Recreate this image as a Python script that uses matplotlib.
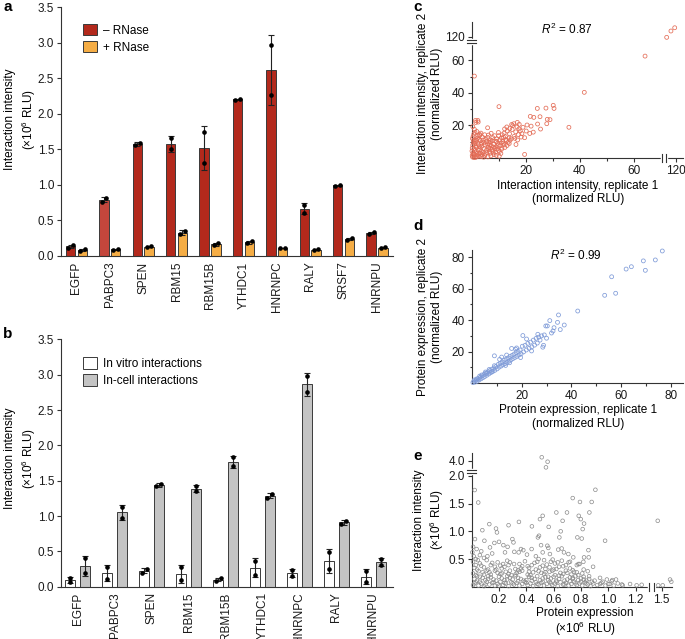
import numpy as np
import matplotlib
matplotlib.use('Agg')
import matplotlib.pyplot as plt
from matplotlib.patches import Patch

plt.rcParams['font.family'] = ['Liberation Sans', 'DejaVu Sans']
plt.rcParams['font.size'] = 8.5
plt.rcParams['mathtext.fontset'] = 'custom'
plt.rcParams['mathtext.rm'] = 'Liberation Sans'
plt.rcParams['mathtext.it'] = 'Liberation Sans:italic'
plt.rcParams['axes.edgecolor'] = '#333333'
plt.rcParams['axes.linewidth'] = 0.8
plt.rcParams['xtick.color'] = '#333333'
plt.rcParams['ytick.color'] = '#333333'
plt.rcParams['xtick.labelcolor'] = '#1a1a1a'
plt.rcParams['ytick.labelcolor'] = '#1a1a1a'

# ---- panel a data (two replicates per bar) ----
a_names = ['EGFP', 'PABPC3', 'SPEN', 'RBM15', 'RBM15B', 'YTHDC1', 'HNRNPC', 'RALY', 'SRSF7', 'HNRNPU']
a_minus_r1 = [0.117, 0.765, 1.557, 1.656, 1.740, 2.195, 2.970, 0.720, 0.985, 0.310]
a_minus_r2 = [0.150, 0.815, 1.595, 1.500, 1.305, 2.210, 2.270, 0.610, 1.000, 0.333]
a_plus_r1 = [0.075, 0.090, 0.125, 0.305, 0.150, 0.178, 0.108, 0.082, 0.225, 0.112]
a_plus_r2 = [0.094, 0.100, 0.140, 0.352, 0.182, 0.206, 0.110, 0.092, 0.252, 0.125]

# ---- panel b data ----
b_names = ['EGFP', 'PABPC3', 'SPEN', 'RBM15', 'RBM15B', 'YTHDC1', 'HNRNPC', 'RALY', 'HNRNPU']
b_vitro_r1 = [0.130, 0.280, 0.200, 0.273, 0.085, 0.364, 0.231, 0.490, 0.218]
b_vitro_r2 = [0.066, 0.115, 0.254, 0.094, 0.118, 0.171, 0.151, 0.246, 0.064]
b_cell_r1 = [0.400, 1.130, 1.420, 1.420, 1.830, 1.260, 2.980, 0.888, 0.390]
b_cell_r2 = [0.200, 0.976, 1.457, 1.350, 1.710, 1.310, 2.750, 0.936, 0.310]

# ---- panel c: interaction intensity rep1 vs rep2 ----
c_pts = [
    (1.0, 50.3), (10.1, 31.5), (41.7, 40.3), (64.2, 62.6), (36.0, 18.8), (19.6, 2.1),
    (108.9, 118.1), (114.0, 134.3), (118.5, 142.7),
    (1.4, 23.0), (2.3, 23.0), (1.5, 21.8), (2.4, 22.0), (1.2, 15.7), (1.9, 16.2), (2.9, 14.5), (5.9, 18.5),
    (21.7, 25.5), (23.0, 24.9), (25.3, 25.3), (24.3, 30.4), (27.5, 30.6), (30.2, 32.3), (30.5, 30.4),
    (28.0, 23.7), (29.0, 23.5), (25.5, 17.7), (27.8, 21.0), (24.4, 20.8), (20.2, 16.5), (21.5, 15.0),
    (19.6, 12.4), (22.8, 15.8),
    (15.6, 21.0), (15.2, 19.8), (16.8, 19.0), (14.1, 18.0), (15.0, 17.4), (17.5, 17.8), (16.3, 16.0),
    (13.2, 16.5), (12.0, 15.2), (14.0, 14.8), (17.3, 14.3), (18.6, 14.9), (12.5, 13.0), (13.8, 12.2),
    (15.7, 13.2), (11.0, 12.3), (10.4, 11.0), (12.8, 10.5), (16.4, 8.2), (9.2, 10.0), (11.6, 9.0),
    (14.2, 10.8), (18.0, 16.5), (11.3, 14.2), (10.0, 13.6),
    (0.3, 0.5), (0.8, 1.2), (1.5, 0.3), (2.2, 1.8), (0.5, 3.0), (1.1, 4.5), (2.8, 2.5), (3.5, 0.8),
    (0.2, 6.0), (1.8, 6.5), (3.0, 5.0), (4.2, 3.2), (4.8, 1.4), (5.5, 4.8), (2.5, 8.0), (0.7, 9.0),
    (3.8, 7.2), (6.2, 6.5), (6.8, 2.8), (7.5, 5.2), (4.5, 9.5), (1.3, 11.0), (5.2, 11.5), (8.2, 8.4),
    (7.0, 9.8), (9.0, 6.8), (8.8, 3.5), (10.5, 7.6), (6.0, 0.6), (3.2, 10.6), (2.0, 2.8), (0.4, 7.8),
    (9.6, 9.0), (11.2, 6.0), (7.8, 12.4), (4.0, 12.8), (0.9, 0.2), (2.6, 0.9), (1.7, 3.9), (5.8, 8.5),
    (3.6, 4.1), (6.5, 3.9), (8.3, 1.9), (10.0, 4.6), (12.0, 8.1), (0.6, 2.0), (2.9, 6.9), (4.6, 5.7),
    (7.3, 7.3), (1.2, 8.8), (5.0, 2.3), (9.3, 11.7), (11.5, 10.0), (6.9, 11.0), (3.3, 2.9), (0.1, 4.2),
    (8.6, 5.8), (10.8, 2.7), (0.2, 1.5), (1.0, 2.4), (1.9, 0.8), (2.4, 4.8), (3.9, 1.9), (4.4, 0.4),
    (5.6, 3.3), (6.3, 5.5), (7.1, 1.2), (7.9, 4.2), (0.9, 5.6), (1.6, 7.3), (3.4, 8.3), (4.9, 7.9),
    (6.6, 8.0), (8.9, 10.2), (9.8, 7.9), (10.9, 9.2), (12.6, 11.3), (13.5, 9.5), (11.8, 12.6), (2.1, 12.0),
    (0.5, 13.1), (1.4, 9.9), (3.0, 13.8), (5.4, 10.0), (7.6, 10.6), (8.1, 6.6), (9.4, 5.3), (10.3, 3.9),
    (0.3, 11.8), (0.6, 10.4), (1.9, 10.8), (2.7, 11.3), (3.7, 9.1), (4.3, 11.0), (5.9, 12.6), (6.4, 9.6),
    (7.0, 6.0), (8.0, 3.0), (9.1, 1.5), (10.2, 1.0), (11.0, 5.2), (12.3, 6.4), (13.1, 7.6), (13.9, 8.8),
    (14.6, 11.7), (16.0, 12.0), (17.0, 11.0), (18.3, 12.8), (16.9, 21.8), (14.8, 20.5), (13.0, 19.0),
    (12.2, 17.8), (19.0, 18.8), (20.5, 20.2), (22.0, 19.5), (17.6, 20.6), (1.0, 17.5), (0.4, 19.2),
    (3.4, 15.2), (6.2, 14.0), (8.5, 13.6), (9.9, 15.6), (7.2, 15.1), (4.8, 14.2), (2.3, 13.6), (0.8, 14.6),
]

# ---- panel d: protein expression rep1 vs rep2 ----
d_pts = [
    (0.5, 0.3), (0.9, 1.2), (1.3, 0.6), (1.8, 1.9), (2.2, 1.1), (2.6, 2.8), (3.0, 2.0), (3.4, 3.6),
    (3.8, 2.7), (4.2, 4.5), (4.6, 3.5), (5.0, 5.6), (5.3, 4.2), (5.7, 6.3), (6.1, 5.0), (6.5, 7.1),
    (6.9, 5.8), (7.3, 7.9), (7.7, 6.6), (8.1, 8.8), (8.5, 7.4), (8.9, 9.6), (9.3, 8.1), (9.7, 10.5),
    (2.0, 2.6), (4.0, 5.1), (6.0, 6.2), (8.0, 7.2), (3.2, 4.4), (7.0, 8.6), (1.1, 2.0), (5.5, 7.0),
    (9.1, 11.0), (9.1, 17.3),
    (10.2, 9.0), (10.6, 11.8), (11.0, 10.1), (11.4, 12.6), (11.8, 10.8), (12.2, 13.4), (12.6, 11.6),
    (13.0, 14.5), (13.4, 12.3), (13.8, 15.2), (14.2, 13.1), (14.6, 16.0), (15.0, 14.0), (15.4, 16.9),
    (15.8, 14.8), (16.2, 17.6), (16.6, 15.6), (17.0, 18.4), (17.4, 16.3), (17.8, 19.4), (18.2, 17.0),
    (18.6, 20.1), (19.0, 17.9), (19.4, 21.0), (19.8, 18.6), (12.0, 16.5), (16.0, 22.0), (14.0, 17.8),
    (18.0, 22.3), (11.2, 15.0), (15.2, 12.9), (19.6, 16.2), (13.6, 11.2), (17.6, 21.5),
    (20.3, 23.4), (20.8, 19.8), (21.4, 24.0), (21.9, 21.0), (22.5, 25.2), (23.0, 22.1), (23.6, 26.0),
    (24.1, 23.0), (24.7, 27.3), (25.2, 24.1), (25.8, 28.4), (26.3, 25.4), (26.9, 29.2), (27.4, 27.3),
    (28.0, 30.0), (28.5, 22.8), (29.1, 30.6), (28.8, 24.0), (22.0, 28.0), (20.5, 30.2), (26.5, 31.0),
    (24.0, 20.4),
    (30.3, 36.3), (31.3, 39.7), (32.6, 33.1), (32.0, 31.8), (29.7, 36.3), (34.8, 43.3), (34.4, 38.6),
    (37.1, 36.9), (30.0, 28.5), (33.0, 35.2), (35.5, 34.0), (42.5, 45.8),
    (53.3, 55.8), (56.1, 67.6), (57.7, 57.1), (61.9, 72.5), (64.0, 74.0), (68.8, 77.7), (69.6, 71.7),
    (73.6, 78.3), (76.4, 84.0),
]

# ---- panel e: protein expression vs interaction intensity ----
e_pts = [
    # above the break
    (0.513, 4.39), (0.556, 3.92), (0.544, 3.32),
    # sparse upper points
    (0.022, 1.745), (0.048, 1.52), (0.078, 1.02), (0.129, 1.13), (0.178, 1.05), (0.185, 0.98),
    (0.270, 1.11), (0.346, 1.17), (0.441, 1.09), (0.500, 1.22), (0.520, 1.28), (0.493, 0.92),
    (0.485, 0.89), (0.508, 0.75), (0.564, 1.08), (0.620, 1.34), (0.698, 1.34), (0.666, 1.19),
    (0.652, 1.00), (0.642, 0.89), (0.740, 1.60), (0.793, 1.53), (0.784, 1.28), (0.799, 1.22),
    (0.823, 1.14), (0.813, 1.04), (0.862, 1.34), (0.879, 1.53), (0.906, 1.75), (0.774, 0.89),
    (0.806, 0.87), (0.855, 0.66), (0.977, 0.83), (0.889, 0.36), (0.818, 0.45), (1.460, 1.19),
    # mid band
    (0.024, 0.86), (0.036, 0.68), (0.093, 0.83), (0.134, 0.71), (0.166, 0.79), (0.200, 0.81),
    (0.232, 0.75), (0.263, 0.72), (0.298, 0.86), (0.306, 0.80), (0.344, 0.62), (0.361, 0.68),
    (0.378, 0.66), (0.312, 0.63), (0.244, 0.62), (0.405, 0.58), (0.439, 0.68), (0.554, 0.74),
    (0.561, 0.70), (0.573, 0.59), (0.593, 0.49), (0.634, 0.67), (0.659, 0.69), (0.676, 0.62),
    (0.708, 0.59), (0.744, 0.53), (0.720, 0.45), (0.781, 0.41), (0.857, 0.53), (0.823, 0.53),
    (0.010, 0.72), (0.060, 0.57), (0.115, 0.55), (0.150, 0.60), (0.470, 0.55), (0.520, 0.62),
    (0.005, 0.62), (0.015, 0.55), (0.045, 0.48), (0.070, 0.64), (0.090, 0.52),
    # right of the break and along the bottom
    (1.465, 0.025), (1.511, 0.025), (1.587, 0.13), (1.600, 0.09),
    (0.940, 0.049), (0.960, 0.09), (1.000, 0.049), (1.025, 0.10), (1.057, 0.13), (1.106, 0.025),
    (1.160, 0.049), (1.208, 0.025), (1.245, 0.035),
    # dense band 0-0.1
    (0.01, 0.03), (0.03, 0.08), (0.05, 0.02), (0.07, 0.06), (0.09, 0.01), (0.11, 0.09), (0.13, 0.04),
    (0.15, 0.07), (0.17, 0.02), (0.19, 0.05), (0.21, 0.09), (0.23, 0.03), (0.25, 0.06), (0.27, 0.01),
    (0.29, 0.08), (0.31, 0.04), (0.33, 0.07), (0.35, 0.02), (0.37, 0.05), (0.39, 0.09), (0.41, 0.03),
    (0.43, 0.06), (0.45, 0.01), (0.47, 0.08), (0.49, 0.04), (0.51, 0.07), (0.53, 0.02), (0.55, 0.05),
    (0.57, 0.09), (0.59, 0.03), (0.61, 0.06), (0.63, 0.01), (0.65, 0.08), (0.67, 0.04), (0.69, 0.07),
    (0.71, 0.02), (0.73, 0.05), (0.75, 0.09), (0.77, 0.03), (0.79, 0.06), (0.81, 0.02), (0.83, 0.08),
    (0.85, 0.04), (0.87, 0.01), (0.89, 0.06), (0.92, 0.03), (0.95, 0.07), (0.98, 0.02), (1.01, 0.05),
    (1.04, 0.02), (1.07, 0.06), (1.10, 0.04), (1.03, 0.12), (0.99, 0.13),
    (0.02, 0.06), (0.06, 0.09), (0.10, 0.04), (0.16, 0.08), (0.20, 0.02), (0.24, 0.07), (0.30, 0.06),
    (0.40, 0.07), (0.48, 0.05), (0.52, 0.09), (0.58, 0.06), (0.62, 0.09), (0.68, 0.04), (0.72, 0.10),
    (0.76, 0.06), (0.80, 0.09), (0.84, 0.06), (0.88, 0.09),
    # dense band 0.1-0.2
    (0.02, 0.14), (0.06, 0.18), (0.10, 0.12), (0.14, 0.17), (0.18, 0.11), (0.22, 0.15), (0.26, 0.19),
    (0.30, 0.13), (0.34, 0.16), (0.38, 0.11), (0.42, 0.18), (0.46, 0.14), (0.50, 0.12), (0.54, 0.17),
    (0.58, 0.15), (0.62, 0.11), (0.66, 0.19), (0.70, 0.13), (0.74, 0.16), (0.78, 0.12), (0.82, 0.18),
    (0.86, 0.14), (0.90, 0.11), (0.94, 0.16), (0.04, 0.11), (0.08, 0.16), (0.12, 0.19), (0.16, 0.13),
    (0.20, 0.18), (0.24, 0.12), (0.28, 0.16), (0.32, 0.19), (0.36, 0.14), (0.40, 0.12), (0.44, 0.16),
    (0.48, 0.19), (0.52, 0.15), (0.56, 0.12), (0.60, 0.18), (0.64, 0.14), (0.68, 0.11), (0.72, 0.17),
    (0.76, 0.19), (0.80, 0.15), (0.84, 0.11),
    (0.04, 0.19), (0.12, 0.14), (0.26, 0.13), (0.34, 0.10), (0.44, 0.11), (0.56, 0.18), (0.64, 0.20),
    (0.74, 0.14), (0.78, 0.21), (0.82, 0.13), (0.86, 0.19),
    # dense band 0.2-0.3
    (0.01, 0.24), (0.05, 0.28), (0.09, 0.22), (0.13, 0.26), (0.17, 0.29), (0.21, 0.23), (0.25, 0.27),
    (0.29, 0.21), (0.33, 0.25), (0.37, 0.29), (0.41, 0.22), (0.45, 0.26), (0.49, 0.28), (0.53, 0.23),
    (0.57, 0.27), (0.61, 0.21), (0.65, 0.25), (0.69, 0.29), (0.73, 0.22), (0.77, 0.26), (0.81, 0.24),
    (0.85, 0.28), (0.03, 0.21), (0.11, 0.29), (0.19, 0.25), (0.27, 0.23), (0.35, 0.27), (0.43, 0.21),
    (0.51, 0.25), (0.59, 0.29), (0.67, 0.23), (0.75, 0.27),
    (0.08, 0.26), (0.14, 0.22), (0.22, 0.24), (0.28, 0.29), (0.32, 0.22), (0.42, 0.27), (0.54, 0.26),
    (0.60, 0.31), (0.70, 0.25),
    # band 0.3-0.4
    (0.02, 0.34), (0.07, 0.38), (0.12, 0.31), (0.17, 0.36), (0.22, 0.33), (0.27, 0.39), (0.32, 0.32),
    (0.37, 0.37), (0.42, 0.34), (0.47, 0.31), (0.52, 0.38), (0.57, 0.35), (0.62, 0.32), (0.67, 0.37),
    (0.72, 0.33), (0.77, 0.39), (0.82, 0.31), (0.04, 0.31), (0.14, 0.39), (0.24, 0.36), (0.34, 0.30),
    (0.44, 0.39), (0.54, 0.32), (0.64, 0.36), (0.74, 0.30),
    (0.18, 0.31), (0.36, 0.33), (0.50, 0.35), (0.03, 0.39), (0.09, 0.35),
    # band 0.4-0.5
    (0.01, 0.45), (0.06, 0.42), (0.11, 0.48), (0.19, 0.44), (0.26, 0.47), (0.31, 0.41), (0.39, 0.46),
    (0.46, 0.43), (0.53, 0.48), (0.61, 0.42), (0.66, 0.47), (0.71, 0.44), (0.79, 0.41), (0.03, 0.50),
    (0.23, 0.41), (0.49, 0.50), (0.58, 0.45),
    (0.15, 0.43), (0.21, 0.38), (0.28, 0.44), (0.35, 0.41), (0.41, 0.37), (0.48, 0.45), (0.55, 0.40),
    (0.63, 0.44), (0.69, 0.39),
]


def seg_scale(a, b, step, slope):
    # piecewise linear axis with a compressed gap between a and b
    xp = np.array([-1e3, a, b, 1e4])
    fp = np.array([-1e3, a, a + step, a + step + (1e4 - b) * slope])
    return (lambda v: np.interp(v, xp, fp)), (lambda v: np.interp(v, fp, xp))


def style_axes(ax):
    for s in ('top', 'right'):
        ax.spines[s].set_visible(False)
    ax.tick_params(direction='out', length=3, width=0.8, labelsize=8.5, pad=2)
    ax.tick_params(which='minor', direction='out', length=1.8, width=0.8)


def ybreak(ax, y0, y1):
    tr = ax.get_yaxis_transform()
    ax.plot([0, 0], [y0, y1], color='white', lw=2.5, transform=tr, clip_on=False, zorder=5)
    for y in (y0, y1):
        ax.plot([-0.022, 0.022], [y, y], color='#333333', lw=0.8, transform=tr, clip_on=False, zorder=6)


def xbreak(ax, x0, x1):
    tr = ax.get_xaxis_transform()
    ax.plot([x0, x1], [0, 0], color='white', lw=2.5, transform=tr, clip_on=False, zorder=5)
    for x in (x0, x1):
        ax.plot([x, x], [-0.03, 0.03], color='#333333', lw=0.8, transform=tr, clip_on=False, zorder=6)


def bar_panel(ax, names, series, colors, width, sep, label_y):
    x = np.arange(len(names))
    for k, ((r1, r2), col) in enumerate(zip(series, colors)):
        r1 = np.array(r1); r2 = np.array(r2)
        pts = np.vstack([r1, r2])
        mean = pts.mean(axis=0)
        sd = pts.std(axis=0, ddof=1)
        xpos = x + (k - 0.5) * sep
        ax.bar(xpos, mean, width, color=col, edgecolor='#3a3a3a', linewidth=0.7, zorder=2)
        ax.errorbar(xpos, mean, yerr=sd, fmt='none', ecolor='#222222', elinewidth=0.8,
                    capsize=2.3, capthick=0.8, zorder=3)
        dx = np.where(np.abs(r1 - r2) < 0.055, 0.07, 0.0)
        ax.scatter(xpos - dx, np.minimum(r1, r2), s=11, color='black', zorder=4, linewidths=0)
        ax.scatter(xpos + dx, np.maximum(r1, r2), s=11, color='black', zorder=4, linewidths=0)
    ax.set_xticks(x)
    ax.set_xticklabels(names, rotation=90)
    ax.tick_params(axis='x', length=0, pad=4)
    ax.set_ylim(0, 3.5)
    ax.set_yticks(np.arange(0, 3.51, 0.5))
    ax.set_yticklabels(['%.1f' % v for v in np.arange(0, 3.51, 0.5)])
    ax.set_ylabel('Interaction intensity\n(×10$^6$ RLU)', fontsize=8.5, linespacing=1.3)
    ax.yaxis.set_label_coords(-0.068, label_y)


fig = plt.figure(figsize=(6.85, 6.39), dpi=100)

# panel a
ax_a = fig.add_axes([0.0891, 0.5994, 0.4847, 0.3892])
style_axes(ax_a)
red = '#b3291c'
bar_panel(ax_a, a_names, [(a_minus_r1, a_minus_r2), (a_plus_r1, a_plus_r2)],
          [[red, '#c4463c'] + [red] * 8, '#f5ad45'], 0.28, 0.35, 0.55)
ax_a.set_xlim(-0.46, 9.48)
ax_a.legend(handles=[Patch(facecolor=red, edgecolor='#3a3a3a', lw=0.7, label='– RNase'),
                     Patch(facecolor='#f5ad45', edgecolor='#3a3a3a', lw=0.7, label='+ RNase')],
            loc='upper left', bbox_to_anchor=(0.035, 0.975), frameon=False, fontsize=8.5,
            handlelength=1.2, handleheight=1.1, handletextpad=0.5, labelspacing=0.35)

# panel b
ax_b = fig.add_axes([0.0891, 0.0818, 0.4847, 0.3872])
style_axes(ax_b)
bar_panel(ax_b, b_names, [(b_vitro_r1, b_vitro_r2), (b_cell_r1, b_cell_r2)],
          ['white', '#c4c4c4'], 0.263, 0.39, 0.52)
ax_b.set_xlim(-0.447, 8.53)
ax_b.legend(handles=[Patch(facecolor='white', edgecolor='#3a3a3a', lw=0.7, label='In vitro interactions'),
                     Patch(facecolor='#c4c4c4', edgecolor='#3a3a3a', lw=0.7, label='In-cell interactions')],
            loc='upper left', bbox_to_anchor=(0.035, 0.97), frameon=False, fontsize=8.5,
            handlelength=1.2, handleheight=1.1, handletextpad=0.5, labelspacing=0.35)

# panel c
ax_c = fig.add_axes([0.6886, 0.753, 0.3085, 0.213])
style_axes(ax_c)
fcx, icx = seg_scale(70, 105, 1.0, 0.31)
fcy, icy = seg_scale(70, 105, 1.0, 0.24)
ax_c.set_xscale('function', functions=(fcx, icx))
ax_c.set_yscale('function', functions=(fcy, icy))
cx, cy = np.array(c_pts).T
ax_c.scatter(cx, cy, s=8, facecolors='none', edgecolors='#e46d57', linewidths=0.55, clip_on=False, zorder=3)
ax_c.set_xlim(0, float(icx(78.26)))
ax_c.set_ylim(0, float(icy(83.75)))
ax_c.set_xticks([20, 40, 60, 120], ['20', '40', '60', '120'])
ax_c.set_xticks([10, 30, 50], minor=True)
ax_c.set_yticks([20, 40, 60, 120], ['20', '40', '60', '120'])
ax_c.set_yticks([10, 30, 50], minor=True)
xbreak(ax_c, float(icx(70.3)), float(icx(71.9)))
ybreak(ax_c, float(icy(70.5)), float(icy(72.5)))
ax_c.text(0.451, 0.946, '$R^2$ = 0.87', transform=ax_c.transAxes, ha='center', va='center', fontsize=8.5)
ax_c.set_xlabel('Interaction intensity, replicate 1\n(normalized RLU)', fontsize=8.5, linespacing=1.2)
ax_c.xaxis.set_label_coords(0.503, -0.16)
ax_c.set_ylabel('Interaction intensity, replicate 2\n(normalized RLU)', fontsize=8.5, linespacing=1.2)
ax_c.yaxis.set_label_coords(-0.138, 0.47)

# panel d
ax_d = fig.add_axes([0.6886, 0.4006, 0.3085, 0.2081])
style_axes(ax_d)
dx_, dy_ = np.array(d_pts).T
ax_d.scatter(dx_, dy_, s=8, facecolors='none', edgecolors='#7f9bd8', linewidths=0.55, clip_on=False, zorder=3)
ax_d.set_xlim(0, 84.7)
ax_d.set_ylim(0, 84.6)
ax_d.set_xticks([20, 40, 60, 80])
ax_d.set_xticks([10, 30, 50, 70], minor=True)
ax_d.set_yticks([20, 40, 60, 80])
ax_d.set_yticks([10, 30, 50, 70], minor=True)
ax_d.text(0.494, 0.962, '$R^2$ = 0.99', transform=ax_d.transAxes, ha='center', va='center', fontsize=8.5)
ax_d.set_xlabel('Protein expression, replicate 1\n(normalized RLU)', fontsize=8.5, linespacing=1.2)
ax_d.xaxis.set_label_coords(0.503, -0.158)
ax_d.set_ylabel('Protein expression, replicate 2\n(normalized RLU)', fontsize=8.5, linespacing=1.2)
ax_d.yaxis.set_label_coords(-0.138, 0.5)

# panel e
ax_e = fig.add_axes([0.6886, 0.0818, 0.292, 0.2088])
style_axes(ax_e)
fex, iex = seg_scale(1.3, 1.4, 0.02, 0.71)
fey, iey = seg_scale(2.05, 3.0, 0.05, 0.17)
ax_e.set_xscale('function', functions=(fex, iex))
ax_e.set_yscale('function', functions=(fey, iey))
ex, ey = np.array(e_pts).T
ax_e.scatter(ex, ey, s=7, facecolors='none', edgecolors='#8a8a8a', linewidths=0.5, clip_on=False, zorder=3)
ax_e.set_xlim(0, float(iex(1.465)))
ax_e.set_ylim(0, float(iey(2.408)))
ax_e.set_xticks([0.2, 0.4, 0.6, 0.8, 1.0, 1.2, 1.5], ['0.2', '0.4', '0.6', '0.8', '1.0', '1.2', '1.5'])
ax_e.set_yticks([0.5, 1.0, 1.5, 2.0, 4.0], ['0.5', '1.0', '1.5', '2.0', '4.0'])
xbreak(ax_e, 1.3, float(iex(1.337)))
ybreak(ax_e, float(iey(2.06)), float(iey(2.115)))
ax_e.set_xlabel('Protein expression\n(×10$^6$ RLU)', fontsize=8.5, linespacing=1.1)
ax_e.xaxis.set_label_coords(0.567, -0.15)
ax_e.set_ylabel('Interaction intensity\n(×10$^6$ RLU)', fontsize=8.5, linespacing=1.2)
ax_e.yaxis.set_label_coords(-0.13, 0.5)

# panel letters
for lab, (px, py) in {'a': (3, 11), 'b': (3, 338), 'c': (413, 11), 'd': (413, 230), 'e': (413, 460)}.items():
    fig.text(px / 685, 1 - py / 639, lab, fontsize=11, fontweight='bold', ha='left', va='baseline')

fig.savefig('out.png', dpi=100)
